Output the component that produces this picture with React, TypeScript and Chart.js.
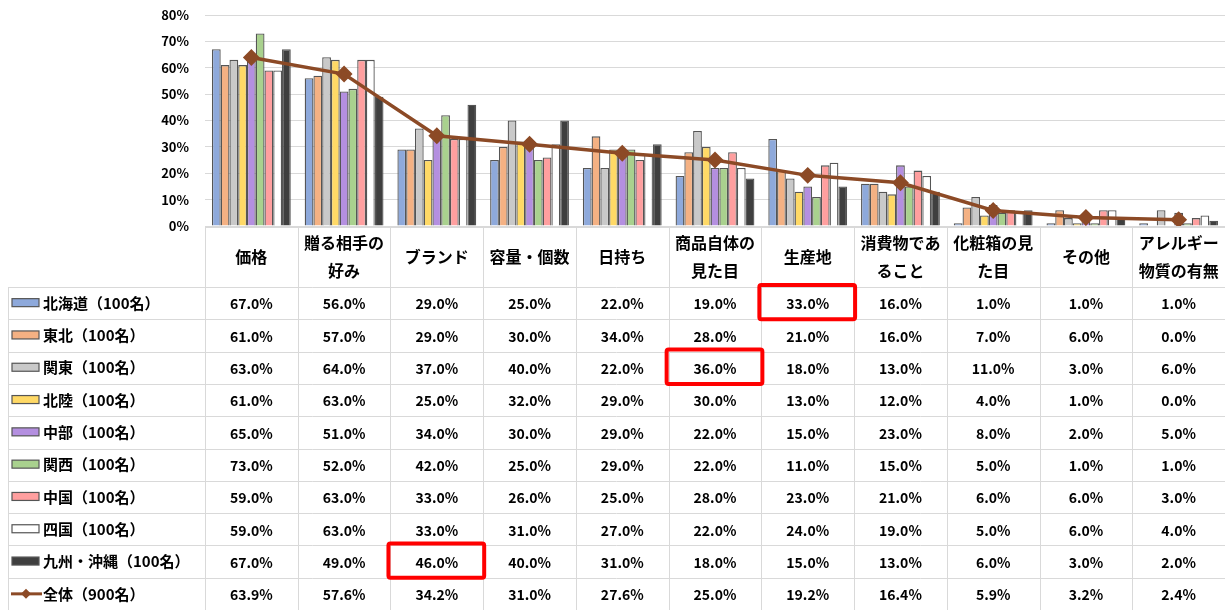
import React, { useEffect, useRef } from "react";
import { Chart, registerables } from "chart.js";

Chart.register(...registerables);

const categories: string[][] = [
  ["価格"],
  ["贈る相手の", "好み"],
  ["ブランド"],
  ["容量・個数"],
  ["日持ち"],
  ["商品自体の", "見た目"],
  ["生産地"],
  ["消費物であ", "ること"],
  ["化粧箱の見", "た目"],
  ["その他"],
  ["アレルギー", "物質の有無"],
];

const hokkaido = [67, 56, 29, 25, 22, 19, 33, 16, 1, 1, 1];
const tohoku = [61, 57, 29, 30, 34, 28, 21, 16, 7, 6, 0];
const kanto = [63, 64, 37, 40, 22, 36, 18, 13, 11, 3, 6];
const hokuriku = [61, 63, 25, 32, 29, 30, 13, 12, 4, 1, 0];
const chubu = [65, 51, 34, 30, 29, 22, 15, 23, 8, 2, 5];
const kansai = [73, 52, 42, 25, 29, 22, 11, 15, 5, 1, 1];
const chugoku = [59, 63, 33, 26, 25, 28, 23, 21, 6, 6, 3];
const shikoku = [59, 63, 33, 31, 27, 22, 24, 19, 5, 6, 4];
const kyushu = [67, 49, 46, 40, 31, 18, 15, 13, 6, 3, 2];
const zentai = [63.9, 57.6, 34.2, 31.0, 27.6, 25.0, 19.2, 16.4, 5.9, 3.2, 2.4];

const barLabels = [
  "北海道（100名）",
  "東北（100名）",
  "関東（100名）",
  "北陸（100名）",
  "中部（100名）",
  "関西（100名）",
  "中国（100名）",
  "四国（100名）",
  "九州・沖縄（100名）",
];
const lineLabel = "全体（900名）";
const barSeries = [hokkaido, tohoku, kanto, hokuriku, chubu, kansai, chugoku, shikoku, kyushu];
const barColors = ["#8EA9DB", "#F4B183", "#C9C9C9", "#FFD966", "#B48FE0", "#A9D18E", "#FF9F9F", "#FFFFFF", "#3F3F3F"];
const lineColor = "#8C4A26";

const yTicks = [0, 10, 20, 30, 40, 50, 60, 70, 80];

// highlighted cells: [rowIndex, columnIndex]
const highlights: [number, number][] = [
  [0, 6],
  [2, 5],
  [8, 2],
];

const FONT = "'Noto Sans CJK JP', 'Noto Sans', sans-serif";

const tablePlugin = {
  id: "dataTable",
  afterDraw(chart: any) {
    const ctx: CanvasRenderingContext2D = chart.ctx;
    const area = chart.chartArea;
    const n = categories.length;
    const colW = (area.right - area.left) / n;
    const tableTop = 227;
    const headerBottom = 287;
    const bottom = 610;
    const rows = barSeries.length + 1;
    const rowH = (bottom - headerBottom) / rows;
    const tableLeft = 8;

    ctx.save();
    ctx.strokeStyle = "#D9D9D9";
    ctx.lineWidth = 1;
    ctx.beginPath();
    ctx.moveTo(area.left, tableTop + 0.5);
    ctx.lineTo(area.right, tableTop + 0.5);
    for (let r = 0; r <= rows; r++) {
      const y = Math.round(headerBottom + r * rowH) + 0.5;
      ctx.moveTo(tableLeft, y);
      ctx.lineTo(area.right, y);
    }
    for (let c = 0; c <= n; c++) {
      const x = Math.round(area.left + c * colW) + 0.5;
      ctx.moveTo(x, tableTop);
      ctx.lineTo(x, bottom);
    }
    ctx.moveTo(tableLeft + 0.5, headerBottom);
    ctx.lineTo(tableLeft + 0.5, bottom);
    ctx.stroke();

    // header
    ctx.fillStyle = "#000";
    ctx.textAlign = "center";
    ctx.textBaseline = "middle";
    ctx.font = `bold 16px ${FONT}`;
    categories.forEach((lines, i) => {
      const cx = chart.scales.x.getPixelForValue(i);
      if (lines.length === 1) {
        ctx.fillText(lines[0], cx, 257);
      } else {
        ctx.fillText(lines[0], cx, 243);
        ctx.fillText(lines[1], cx, 271);
      }
    });

    const allRows = [...barSeries, zentai];
    const allLabels = [...barLabels, lineLabel];
    allRows.forEach((vals, r) => {
      const yc = headerBottom + r * rowH + rowH / 2;
      // legend key
      if (r < barSeries.length) {
        ctx.fillStyle = barColors[r];
        ctx.fillRect(12, yc - 4.5, 27, 8);
        ctx.strokeStyle = "#555";
        ctx.lineWidth = 1.2;
        ctx.strokeRect(12, yc - 4.5, 27, 8);
      } else {
        ctx.strokeStyle = lineColor;
        ctx.lineWidth = 3;
        ctx.beginPath();
        ctx.moveTo(11, yc);
        ctx.lineTo(42, yc);
        ctx.stroke();
        ctx.fillStyle = lineColor;
        ctx.beginPath();
        ctx.moveTo(26, yc - 5);
        ctx.lineTo(31, yc);
        ctx.lineTo(26, yc + 5);
        ctx.lineTo(21, yc);
        ctx.closePath();
        ctx.fill();
      }
      ctx.fillStyle = "#000";
      ctx.textAlign = "left";
      ctx.font = `bold 15px ${FONT}`;
      ctx.fillText(allLabels[r], 43, yc);
      ctx.textAlign = "center";
      ctx.font = `bold 14px ${FONT}`;
      vals.forEach((v, i) => {
        const cx = chart.scales.x.getPixelForValue(i);
        ctx.fillText(v.toFixed(1) + "%", cx, yc + 1);
      });
    });

    // highlight boxes
    ctx.strokeStyle = "#FF0000";
    ctx.lineWidth = 4;
    highlights.forEach(([r, c]) => {
      const x0 = area.left + c * colW - 2;
      const x1 = area.left + (c + 1) * colW + 1;
      const y0 = headerBottom + r * rowH - 2;
      const y1 = headerBottom + (r + 1) * rowH;
      ctx.beginPath();
      (ctx as any).roundRect(x0, y0, x1 - x0, y1 - y0, 2);
      ctx.stroke();
    });
    ctx.restore();
  },
};

export default function App() {
  const ref = useRef<HTMLCanvasElement>(null);
  useEffect(() => {
    if (!ref.current) return;
    const datasets: any[] = barSeries.map((data, i) => ({
      type: "bar",
      label: barLabels[i],
      data,
      backgroundColor: barColors[i],
      borderColor: "#555555",
      borderWidth: 1.3,
      barPercentage: 1,
      categoryPercentage: 0.85,
      order: 1,
    }));
    datasets.push({
      type: "line",
      label: lineLabel,
      data: zentai,
      borderColor: lineColor,
      backgroundColor: lineColor,
      borderWidth: 3.5,
      pointStyle: "rectRot",
      pointRadius: 6,
      pointBackgroundColor: lineColor,
      pointBorderColor: lineColor,
      order: 0,
    });
    const chart = new Chart(ref.current, {
      type: "bar",
      data: { labels: categories.map((c) => c.join("")), datasets },
      options: {
        animation: false,
        responsive: false,
        maintainAspectRatio: false,
        layout: { autoPadding: false, padding: { left: 0, right: 0, top: 15, bottom: 384 } },
        plugins: { legend: { display: false }, tooltip: { enabled: false } },
        scales: {
          x: { display: false, offset: true },
          y: {
            min: 0,
            max: 80,
            afterFit: (s: any) => {
              s.width = 205;
            },
            afterBuildTicks: (s: any) => {
              s.ticks = yTicks.map((v) => ({ value: v }));
            },
            border: { display: false },
            grid: {
              color: "#D9D9D9",
              lineWidth: 1,
              drawTicks: true,
              tickLength: 16,
              tickColor: "rgba(0,0,0,0)",
            },
            ticks: {
              padding: 0,
              color: "#000",
              font: { family: FONT, size: 13, weight: "bold" },
              callback: (v: any) => `${v}%`,
            },
          },
        },
      },
      plugins: [tablePlugin],
    });
    return () => chart.destroy();
  }, []);
  return (
    <div style={{ position: "absolute", left: 0, top: 0, width: 1225, height: 610, background: "#fff" }}>
      <canvas ref={ref} width={1225} height={610} style={{ display: "block" }} />
    </div>
  );
}
